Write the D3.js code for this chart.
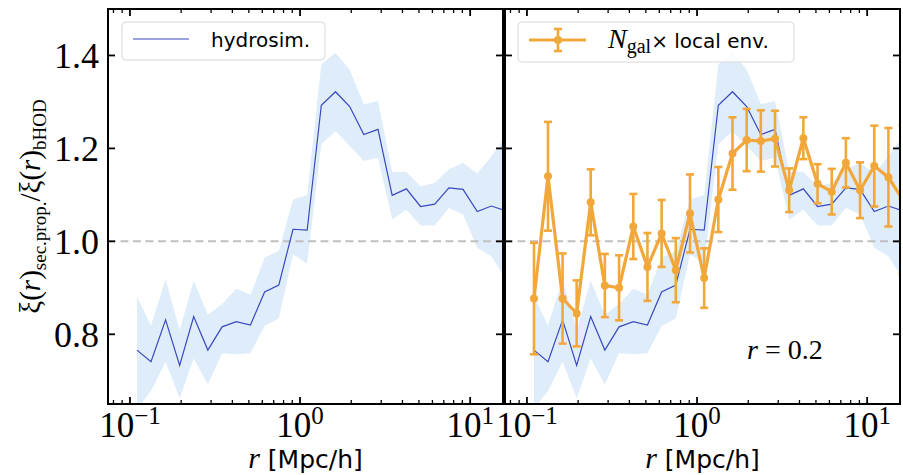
<!DOCTYPE html>
<html>
<head>
<meta charset="utf-8">
<script src="https://cdn.jsdelivr.net/npm/d3@7"></script>
<style>
  body { margin: 0; background: #fff; }
  svg { display: block; }
</style>
</head>
<body>
<svg id="chart" width="903" height="475"></svg>
<script>
// separation bins (Mpc/h), log spaced
const rVals = [0.110, 0.133, 0.162, 0.196, 0.237, 0.287, 0.348, 0.422, 0.511, 0.619,
  0.750, 0.909, 1.101, 1.334, 1.616, 1.958, 2.371, 2.873, 3.481, 4.217,
  5.109, 6.190, 7.499, 9.085, 11.01, 13.33, 16.15];

// hydrosim. ratio and its shaded range
const hydroMean = [0.766, 0.741, 0.831, 0.733, 0.838, 0.766, 0.816, 0.827, 0.820, 0.891,
  0.906, 1.026, 1.024, 1.293, 1.322, 1.290, 1.230, 1.241, 1.099, 1.113,
  1.075, 1.080, 1.115, 1.112, 1.064, 1.076, 1.066];
const hydroHigh = [0.881, 0.819, 0.918, 0.809, 0.916, 0.842, 0.865, 0.898, 0.885, 0.965,
  0.979, 1.090, 1.100, 1.381, 1.406, 1.370, 1.295, 1.302, 1.149, 1.150,
  1.118, 1.126, 1.155, 1.169, 1.146, 1.183, 1.225];
const hydroLow = [0.640, 0.678, 0.741, 0.662, 0.748, 0.692, 0.759, 0.757, 0.759, 0.818,
  0.834, 0.972, 0.952, 1.209, 1.237, 1.205, 1.173, 1.180, 1.047, 1.068,
  1.034, 1.034, 1.072, 1.058, 0.986, 0.968, 0.920];

// N_gal x local env. ratio with error bars
const envVals = [0.877, 1.140, 0.877, 0.845, 1.084, 0.905, 0.900, 1.032, 0.945, 1.017,
  0.938, 1.060, 0.921, 1.090, 1.189, 1.218, 1.216, 1.221, 1.110, 1.222,
  1.124, 1.107, 1.169, 1.110, 1.162, 1.138, 1.090];
const envErr = [0.120, 0.117, 0.097, 0.071, 0.071, 0.068, 0.070, 0.070, 0.073, 0.072,
  0.069, 0.084, 0.064, 0.070, 0.078, 0.067, 0.066, 0.060, 0.047, 0.045,
  0.042, 0.049, 0.053, 0.060, 0.087, 0.106, 0.160];

const yTicks = [0.8, 1.0, 1.2, 1.4];
const xMajor = [0.1, 1, 10];
const xMajorExp = ['\u22121', '0', '1'];
const xMinor = [0.08, 0.09, 0.2, 0.3, 0.4, 0.5, 0.6, 0.7, 0.8, 0.9, 2, 3, 4, 5, 6, 7, 8, 9];

const blue = '#3948bf';
const band = '#dfedfb';
const orange = '#f2a73b';
const serif = '"Liberation Serif", "DejaVu Serif", serif';
const sans = '"DejaVu Sans", sans-serif';

const panelW = 395, panelH = 395, panelTop = 9;
const svg = d3.select('#chart');

const x = d3.scaleLog().domain([0.0743, 15.6]).range([0, panelW]);
const y = d3.scaleLinear().domain([0.65, 1.5]).range([panelH, 0]);

const idx = d3.range(rVals.length);

function drawPanel(left, name, withEnv, withYLabels) {
  const g = svg.append('g').attr('transform', `translate(${left},${panelTop})`);

  g.append('clipPath').attr('id', 'clip-' + name)
    .append('rect').attr('width', panelW).attr('height', panelH);

  const plot = g.append('g').attr('clip-path', `url(#clip-${name})`);

  // shaded hydrosim range
  plot.append('path')
    .datum(idx)
    .attr('fill', band)
    .attr('d', d3.area()
      .x(i => x(rVals[i]))
      .y0(i => y(hydroLow[i]))
      .y1(i => y(hydroHigh[i])));

  // reference line at 1
  plot.append('line')
    .attr('x1', 0).attr('x2', panelW)
    .attr('y1', y(1)).attr('y2', y(1))
    .attr('stroke', '#c0c0c0')
    .attr('stroke-width', 2)
    .attr('stroke-dasharray', '8,4.5');

  plot.append('path')
    .datum(idx)
    .attr('fill', 'none')
    .attr('stroke', blue)
    .attr('stroke-width', 1.2)
    .attr('d', d3.line().x(i => x(rVals[i])).y(i => y(hydroMean[i])));

  if (withEnv) {
    const eb = plot.append('g').attr('stroke', orange).attr('stroke-width', 2.6);
    idx.forEach(i => {
      const cx = x(rVals[i]);
      const y0 = y(envVals[i] - envErr[i]), y1 = y(envVals[i] + envErr[i]);
      eb.append('line').attr('x1', cx).attr('x2', cx).attr('y1', y0).attr('y2', y1);
      eb.append('line').attr('x1', cx - 4).attr('x2', cx + 4).attr('y1', y0).attr('y2', y0);
      eb.append('line').attr('x1', cx - 4).attr('x2', cx + 4).attr('y1', y1).attr('y2', y1);
    });

    plot.append('path')
      .datum(idx)
      .attr('fill', 'none')
      .attr('stroke', orange)
      .attr('stroke-width', 3.2)
      .attr('stroke-linejoin', 'round')
      .attr('d', d3.line().x(i => x(rVals[i])).y(i => y(envVals[i])));

    plot.selectAll('circle.pt')
      .data(idx)
      .join('circle')
      .attr('class', 'pt')
      .attr('cx', i => x(rVals[i]))
      .attr('cy', i => y(envVals[i]))
      .attr('r', 4)
      .attr('fill', orange);
  }

  // ticks, all pointing inward on four sides
  const tk = g.append('g').attr('stroke', '#000');
  yTicks.forEach(v => {
    tk.append('line').attr('x1', 0).attr('x2', 7).attr('y1', y(v)).attr('y2', y(v)).attr('stroke-width', 1.8);
    tk.append('line').attr('x1', panelW).attr('x2', panelW - 7).attr('y1', y(v)).attr('y2', y(v)).attr('stroke-width', 1.8);
  });
  xMajor.forEach(v => {
    tk.append('line').attr('x1', x(v)).attr('x2', x(v)).attr('y1', panelH).attr('y2', panelH - 7).attr('stroke-width', 1.8);
    tk.append('line').attr('x1', x(v)).attr('x2', x(v)).attr('y1', 0).attr('y2', 7).attr('stroke-width', 1.8);
  });
  xMinor.forEach(v => {
    tk.append('line').attr('x1', x(v)).attr('x2', x(v)).attr('y1', panelH).attr('y2', panelH - 4).attr('stroke-width', 1.3);
    tk.append('line').attr('x1', x(v)).attr('x2', x(v)).attr('y1', 0).attr('y2', 4).attr('stroke-width', 1.3);
  });

  g.append('rect')
    .attr('width', panelW).attr('height', panelH)
    .attr('fill', 'none').attr('stroke', '#000').attr('stroke-width', 2);

  // x tick labels: 10^n
  xMajor.forEach((v, k) => {
    const t = g.append('text')
      .attr('x', x(v)).attr('y', 428)
      .attr('text-anchor', 'middle')
      .attr('font-family', serif)
      .attr('font-size', 35);
    t.append('tspan').text('10');
    t.append('tspan').attr('font-size', 25).attr('dy', -13).text(xMajorExp[k]);
  });

  if (withYLabels) {
    yTicks.forEach(v => {
      g.append('text')
        .attr('x', -9).attr('y', y(v))
        .attr('dy', '0.34em')
        .attr('text-anchor', 'end')
        .attr('font-family', serif)
        .attr('font-size', 36)
        .text(v.toFixed(1));
    });
  }

  // x axis label
  const xl = g.append('text')
    .attr('x', panelW / 2).attr('y', 459)
    .attr('text-anchor', 'middle');
  xl.append('tspan').attr('font-family', serif).attr('font-style', 'italic').attr('font-size', 30).text('r');
  xl.append('tspan').attr('font-family', sans).attr('font-size', 25).text(' [Mpc/h]');

  return g;
}

const gL = drawPanel(108, 'left', false, true);
const gR = drawPanel(505, 'right', true, false);

// legend, left panel
const legL = gL.append('g').attr('transform', 'translate(14,13)');
legL.append('rect').attr('width', 203).attr('height', 38).attr('rx', 4)
  .attr('fill', '#fff').attr('fill-opacity', 0.8).attr('stroke', '#d8d8d8');
legL.append('line').attr('x1', 11).attr('x2', 67).attr('y1', 17).attr('y2', 17)
  .attr('stroke', blue).attr('stroke-width', 1.2);
legL.append('text').attr('x', 89).attr('y', 25)
  .attr('font-family', sans).attr('font-size', 20).text('hydrosim.');

// legend, right panel
const legR = gR.append('g').attr('transform', 'translate(13,13)');
legR.append('rect').attr('width', 276).attr('height', 40).attr('rx', 4)
  .attr('fill', '#fff').attr('fill-opacity', 0.8).attr('stroke', '#d8d8d8');
legR.append('line').attr('x1', 11).attr('x2', 68).attr('y1', 18).attr('y2', 18)
  .attr('stroke', orange).attr('stroke-width', 3.2);
legR.append('line').attr('x1', 40).attr('x2', 40).attr('y1', 7).attr('y2', 29)
  .attr('stroke', orange).attr('stroke-width', 2.6);
[7, 29].forEach(yy => legR.append('line').attr('x1', 36).attr('x2', 44).attr('y1', yy).attr('y2', yy)
  .attr('stroke', orange).attr('stroke-width', 2.6));
legR.append('circle').attr('cx', 40).attr('cy', 18).attr('r', 4).attr('fill', orange);
const lt = legR.append('text').attr('x', 90).attr('y', 26);
lt.append('tspan').attr('font-family', serif).attr('font-style', 'italic').attr('font-size', 28).text('N');
lt.append('tspan').attr('font-family', serif).attr('font-size', 20).attr('dy', 5).text('gal');
lt.append('tspan').attr('font-family', sans).attr('font-size', 20).attr('dy', -5).text('\u00d7 local env.');

// annotation
const ann = gR.append('text').attr('x', 242).attr('y', 350).attr('font-family', serif).attr('font-size', 28);
ann.append('tspan').attr('font-style', 'italic').text('r');
ann.append('tspan').text(' = 0.2');

// y axis label
const yl = svg.append('text')
  .attr('transform', `translate(40,${panelTop + panelH / 2}) rotate(-90)`)
  .attr('text-anchor', 'middle')
  .attr('font-family', serif)
  .attr('font-size', 29);
yl.append('tspan').text('\u03be(');
yl.append('tspan').attr('font-style', 'italic').text('r');
yl.append('tspan').text(')');
yl.append('tspan').attr('font-size', 19).attr('dy', 6).text('sec.prop.');
yl.append('tspan').attr('dy', -6).text('/\u03be(');
yl.append('tspan').attr('font-style', 'italic').text('r');
yl.append('tspan').text(')');
yl.append('tspan').attr('font-size', 19).attr('dy', 6).text('bHOD');
</script>
</body>
</html>
